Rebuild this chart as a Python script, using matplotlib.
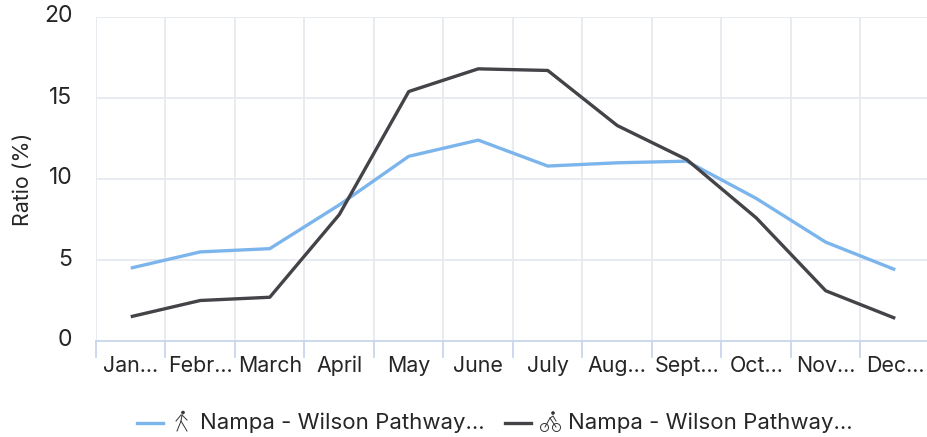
import matplotlib
matplotlib.use("Agg")
import matplotlib.pyplot as plt
from matplotlib.lines import Line2D
from matplotlib.patches import Circle
from matplotlib.transforms import Affine2D

months = ["Jan...", "Febr...", "March", "April", "May", "June", "July", "Aug...", "Sept...", "Oct...", "Nov...", "Dec..."]
walk = [4.5, 5.5, 5.7, 8.4, 11.4, 12.4, 10.8, 11.0, 11.1, 8.8, 6.1, 4.4]
bike = [1.5, 2.5, 2.7, 7.8, 15.4, 16.8, 16.7, 13.3, 11.2, 7.6, 3.1, 1.4]
yticks = [0, 5, 10, 15, 20]
legend_label = "Nampa - Wilson Pathway..."
ylabel = "Ratio (%)"

W, H = 928, 437
TXT = "#262626"
plt.rcParams["font.family"] = ["Inter", "DejaVu Sans"]
fig = plt.figure(figsize=(W / 100, H / 100), dpi=100)
ax = fig.add_axes([96 / W, 1 - 341 / H, (W - 96) / W, (341 - 17) / H])
band = 69.5
ax.set_xlim(-0.5, -0.5 + (W - 96) / band)
ax.set_ylim(0, 20)
for s in ax.spines.values():
    s.set_visible(False)
ax.set_axisbelow(True)
ax.yaxis.grid(True, color="#e6e9ef", lw=1.3)
for i in range(13):
    ax.axvline(i - 0.5, color="#e6e9ef", lw=1.3, zorder=0)
    ax.plot([i - 0.5, i - 0.5], [0, -0.048], transform=ax.get_xaxis_transform(),
            color="#c9d6ec", lw=1.3, clip_on=False, zorder=1)
ax.axhline(0, color="#c9d6ec", lw=1.3, zorder=1, clip_on=False)

x = range(len(months))
ax.plot(x, walk, color="#7cb5ec", lw=2.4, solid_capstyle="butt", zorder=3)
ax.plot(x, bike, color="#434348", lw=2.4, solid_capstyle="butt", zorder=4)

ax.set_xticks(list(x), months, fontsize=15.4, color=TXT)
ax.tick_params(axis="x", length=0, pad=22.3)
for lab in ax.get_xticklabels():
    lab.set_verticalalignment("baseline")
ax.set_yticks(yticks, [str(v) for v in yticks], fontsize=16.5, color=TXT)
ax.tick_params(axis="y", length=0, pad=17)
for lab in ax.get_yticklabels():
    lab.set_transform(lab.get_transform() + Affine2D().translate(0, 3))
fig.text(23 / W, 1 - 179 / H, ylabel, rotation=90, ha="center", va="center", fontsize=15.4, color=TXT)

def px(xp, yp):
    return xp / W, 1 - yp / H

def seg(pts, color="#333333", lw=0.7):
    xs, ys = zip(*[px(*p) for p in pts])
    fig.add_artist(Line2D(xs, ys, color=color, lw=lw, transform=fig.transFigure))

def circ(cx, cy, r, fill=False, color="#333333"):
    fig.add_artist(Circle((cx, H - cy), r, transform=None, fill=fill, ec=color,
                          fc=color if fill else "none", lw=0.7))

# legend
seg([(137, 423), (163, 423)], "#7cb5ec", 2.4)
seg([(505, 423), (531, 423)], "#434348", 2.4)
fig.text(200 / W, 1 - 423 / H, legend_label, ha="left", va="center", fontsize=16, color=TXT)
fig.text(568 / W, 1 - 423 / H, legend_label, ha="left", va="center", fontsize=16, color=TXT)

# walker icon
circ(183, 412.5, 1.3, True)
seg([(182, 415), (181, 421), (177, 431)])
seg([(181, 421), (187, 431)])
seg([(182, 415), (187, 420)])
seg([(181, 415), (176, 421)])
# cyclist icon
circ(544.5, 427.5, 4)
circ(556.5, 427.5, 4)
circ(553, 413, 1.3, True)
seg([(545, 427), (550, 418), (556, 427)])
seg([(550, 418), (553, 416), (556, 421)])

fig.savefig("out.png", dpi=100)
